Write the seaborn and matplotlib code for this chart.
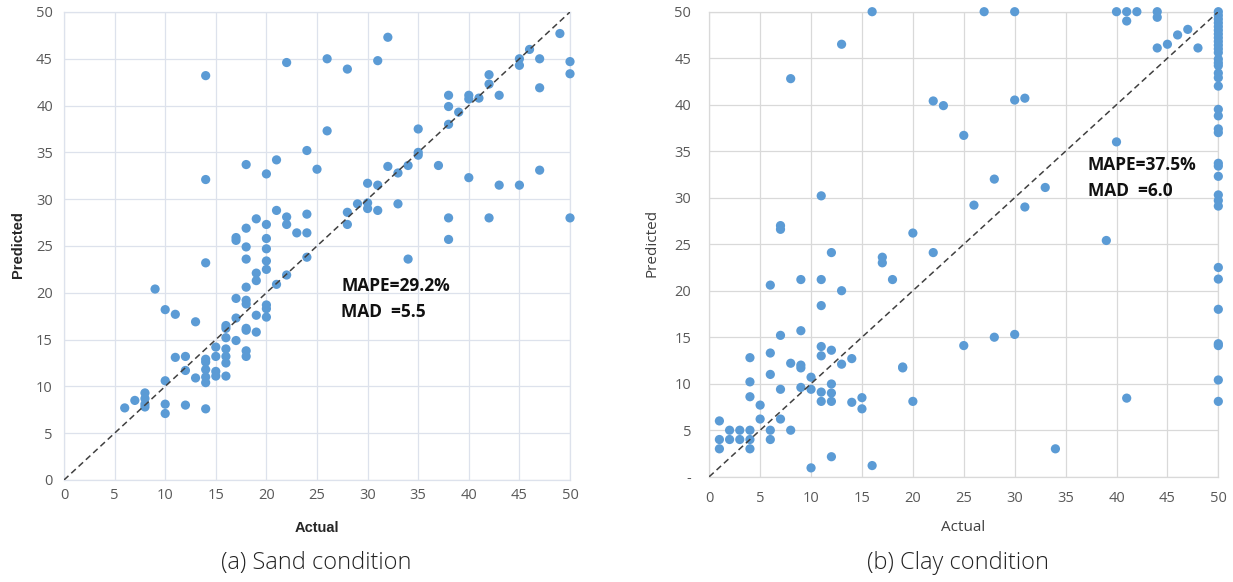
import matplotlib
matplotlib.use("Agg")
import matplotlib.pyplot as plt
import numpy as np
import pandas as pd
import seaborn as sns

# Sand condition: actual vs. predicted
sand_actual = [
    14, 22, 14, 18, 21, 20, 24, 25,
    21, 22, 22, 19, 18, 20, 24, 23, 24,
    17, 17, 20, 18,
    26, 28, 31, 32, 26,
    35, 38, 38, 39, 38, 40, 40, 41, 42, 42, 43, 45, 45, 46, 47, 47, 49, 50, 50,
    35, 35, 34, 37, 32, 33, 30, 31, 40, 43, 45, 47,
    29, 30, 30, 31, 28, 28, 33, 38, 38, 42, 50,
    24, 34,
    14, 9, 10, 11, 13,
    18, 20, 20, 20, 19, 19, 22, 21,
    17, 18, 18, 18, 20, 20, 20, 19, 19, 17, 16, 16, 16, 18, 18, 17,
    15, 16, 15, 16, 16, 18, 18,
    14, 14, 14, 14, 14, 15, 15, 16, 13, 12, 11, 12, 10,
    8, 8, 8, 8, 7, 6, 10, 10, 12, 14,
]
sand_predicted = [
    43.2, 44.6, 32.1, 33.7, 34.2, 32.7, 35.2, 33.2,
    28.8, 28.1, 27.3, 27.9, 26.9, 27.3, 28.4, 26.4, 26.4,
    25.9, 25.6, 25.8, 24.9,
    45.0, 43.9, 44.8, 47.3, 37.3,
    37.5, 41.1, 39.9, 39.3, 38.0, 41.1, 40.7, 40.8, 43.3, 42.3, 41.1, 45.0, 44.3, 46.0, 45.0, 41.9, 47.7, 44.7, 43.4,
    35.0, 34.7, 33.6, 33.6, 33.5, 32.8, 31.7, 31.5, 32.3, 31.5, 31.5, 33.1,
    29.5, 29.6, 29.0, 28.8, 28.6, 27.3, 29.5, 28.0, 25.7, 28.0, 28.0,
    23.8, 23.6,
    23.2, 20.4, 18.2, 17.7, 16.9,
    23.6, 24.7, 23.4, 22.5, 22.1, 21.3, 21.9, 20.9,
    19.4, 19.2, 18.8, 20.6, 18.7, 18.3, 17.4, 17.6, 15.8, 17.3, 16.5, 16.2, 15.2, 16.2, 16.0, 14.9,
    14.2, 14.0, 13.2, 13.2, 12.5, 13.8, 13.2,
    12.9, 12.6, 11.8, 11.0, 10.4, 11.6, 11.1, 11.1, 10.9, 11.7, 13.1, 13.2, 10.6,
    9.3, 8.7, 8.1, 7.8, 8.5, 7.7, 8.1, 7.1, 8.0, 7.6,
]

# Clay condition: actual vs. predicted
clay_actual = [
    16, 13, 8, 22, 11, 7, 7, 20,
    27, 30, 40, 41, 42, 44, 44, 41, 44, 45, 46, 47, 48,
    23, 30, 31, 25, 40, 28, 33, 26, 31,
    22, 39, 25, 28, 30, 41, 34,
    12, 17, 17, 18, 9, 11, 6, 13, 11, 9, 7, 11, 11, 12, 6, 4, 14, 8, 9, 9, 13, 19, 19,
    6, 10, 4, 12, 7, 9, 10, 11, 12, 4, 15, 5, 11, 12, 14, 20, 15,
    1, 5, 7, 2, 3, 4, 6, 8, 1, 2, 3, 4, 6, 1, 4, 12, 10, 16,
    50, 50, 50, 50, 50, 50, 50, 50, 50, 50, 50, 50,
    50, 50, 50, 50, 50, 50, 50, 50, 50, 50, 50, 50,
    50, 50, 50, 50, 50, 50, 50, 50, 50, 50, 50,
]
clay_predicted = [
    50.0, 46.5, 42.8, 40.4, 30.2, 27.0, 26.6, 26.2,
    50.0, 50.0, 50.0, 50.0, 50.0, 50.0, 49.4, 49.0, 46.1, 46.5, 47.5, 48.1, 46.1,
    39.9, 40.5, 40.7, 36.7, 36.0, 32.0, 31.1, 29.2, 29.0,
    24.1, 25.4, 14.1, 15.0, 15.3, 8.45, 3.0,
    24.1, 23.6, 23.0, 21.2, 21.2, 21.2, 20.6, 20.0, 18.4, 15.7, 15.2, 14.0, 13.0, 13.6, 13.3, 12.8, 12.7, 12.2, 12.0, 11.7, 12.1, 11.8, 11.7,
    11.0, 10.7, 10.2, 9.97, 9.4, 9.6, 9.4, 9.1, 9.0, 8.6, 8.5, 7.7, 8.1, 8.1, 8.0, 8.1, 7.3,
    6.0, 6.2, 6.2, 5.0, 5.0, 5.0, 5.0, 5.0, 4.0, 4.0, 4.0, 4.0, 4.0, 3.0, 3.0, 2.15, 0.95, 1.2,
    50.0, 49.6, 49.2, 48.8, 48.4, 48.0, 47.6, 47.2, 46.8, 46.4, 46.0, 45.6,
    44.9, 44.5, 44.2, 43.4, 42.9, 42.0, 39.5, 38.8, 37.4, 37.0, 33.7, 33.4,
    32.3, 30.3, 29.7, 29.1, 22.5, 21.25, 18.0, 14.3, 14.1, 10.4, 8.1,
]

ticks = [0, 5, 10, 15, 20, 25, 30, 35, 40, 45, 50]
sand_yticklabels = [str(t) for t in ticks]
clay_yticklabels = ["-"] + [str(t) for t in ticks[1:]]

sand_stats = ["MAPE=29.2%", "MAD  =5.5"]
clay_stats = ["MAPE=37.5%", "MAD  =6.0"]
captions = ["(a) Sand condition", "(b) Clay condition"]

sns.set_theme(style="white")
plt.rcParams["font.family"] = ["Open Sans", "DejaVu Sans"]

POINT = "#5b9bd5"
TICK_COLOR = "#595959"

fig = plt.figure(figsize=(12.33, 5.82), dpi=100)
ax1 = fig.add_axes([0.0519, 0.1753, 0.4104, 0.8041])
ax2 = fig.add_axes([0.5752, 0.1809, 0.4129, 0.7990])

sand_df = pd.DataFrame({"Actual": sand_actual, "Predicted": sand_predicted})
clay_df = pd.DataFrame({"Actual": clay_actual, "Predicted": clay_predicted})


def style_axes(ax, grid_color, ylabels, xpad, ypad):
    ax.set_xlim(0, 50)
    ax.set_ylim(0, 50)
    ax.set_xticks(ticks)
    ax.set_yticks(ticks)
    ax.set_xticklabels([str(t) for t in ticks])
    ax.set_yticklabels(ylabels)
    ax.grid(True, color=grid_color, linewidth=0.9)
    ax.set_axisbelow(True)
    for sp in ax.spines.values():
        sp.set_color(grid_color)
        sp.set_linewidth(0.9)
    ax.tick_params(axis="both", length=0, labelsize=10.5, labelcolor=TICK_COLOR)
    ax.tick_params(axis="x", pad=xpad)
    ax.tick_params(axis="y", pad=ypad)


# Sand panel
sns.scatterplot(data=sand_df, x="Actual", y="Predicted", ax=ax1, color=POINT,
                s=44, edgecolor="none", clip_on=False, zorder=3)
ax1.plot([0, 50], [0, 50], ls=(0, (4, 2.5)), color="#404040", lw=1.1, zorder=4)
style_axes(ax1, "#dde2ec", sand_yticklabels, xpad=6, ypad=8)
ax1.set_xlabel("Actual", family=["Liberation Sans", "DejaVu Sans"],
               fontweight="bold", fontsize=10.5, color="#262626")
ax1.set_ylabel("Predicted", family=["Liberation Sans", "DejaVu Sans"],
               fontweight="bold", fontsize=10.5, color="#262626")
ax1.xaxis.set_label_coords(0.4994, -0.088)
ax1.yaxis.set_label_coords(-0.077, 0.502)
ax1.text(27.4, 20.7, sand_stats[0], fontweight="bold", fontsize=12.5,
         va="center", ha="left", color="#111111")
ax1.text(27.4, 18.0, sand_stats[1], fontweight="bold", fontsize=12.5,
         va="center", ha="left", color="#111111")

# Clay panel
sns.scatterplot(data=clay_df, x="Actual", y="Predicted", ax=ax2, color=POINT,
                s=44, edgecolor="none", clip_on=False, zorder=3)
ax2.plot([0, 50], [0, 50], ls=(0, (4, 2.5)), color="#404040", lw=1.1, zorder=4)
style_axes(ax2, "#d9d9d9", clay_yticklabels, xpad=10, ypad=13)
ax2.set_xlabel("Actual", fontsize=11, color="#404040")
ax2.set_ylabel("Predicted", fontsize=11, color="#404040")
ax2.xaxis.set_label_coords(0.498, -0.094)
ax2.yaxis.set_label_coords(-0.097, 0.5026)
ax2.text(37.2, 33.5, clay_stats[0], fontweight="bold", fontsize=12.5,
         va="center", ha="left", color="#111111")
ax2.text(37.2, 30.7, clay_stats[1], fontweight="bold", fontsize=12.5,
         va="center", ha="left", color="#111111")

# Panel captions
fig.text(315.8 / 1233, 1 - 563 / 582, captions[0], ha="center", va="center",
         fontsize=17, color="#222222", fontweight="light")
fig.text(958.3 / 1233, 1 - 563 / 582, captions[1], ha="center", va="center",
         fontsize=17, color="#222222", fontweight="light")

fig.savefig("out.png", dpi=100)
